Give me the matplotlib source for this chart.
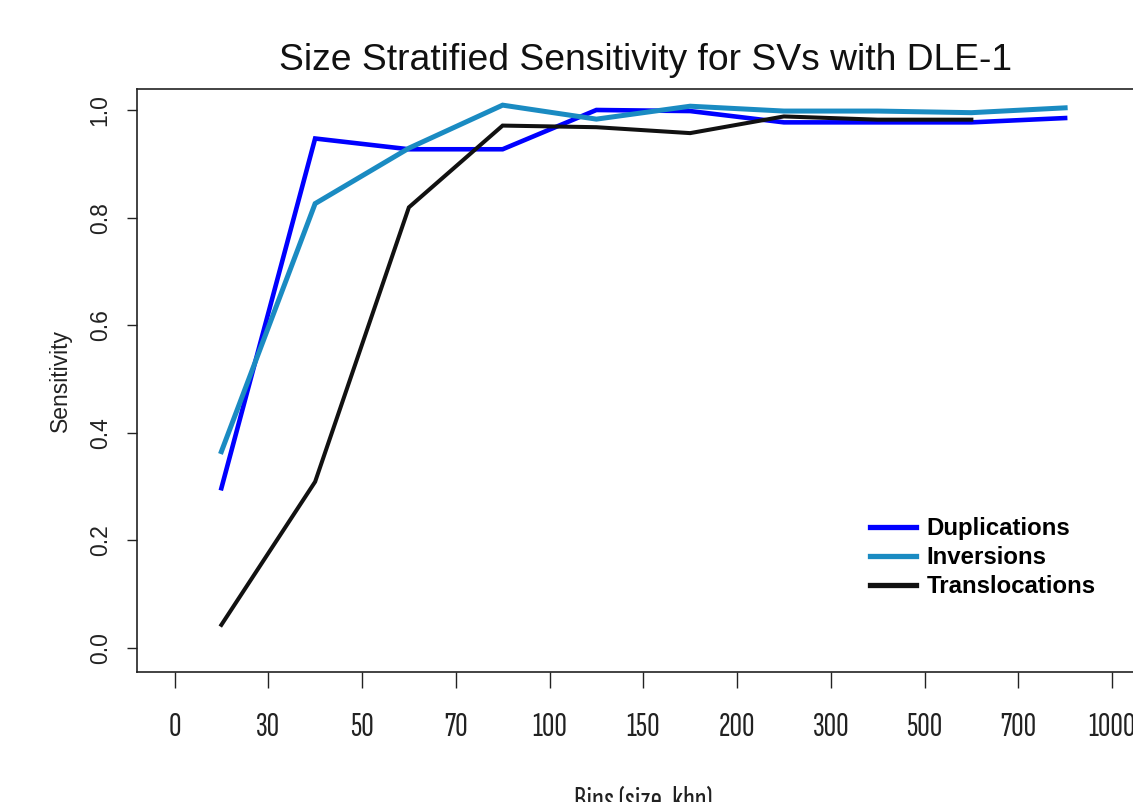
import matplotlib
matplotlib.use("Agg")
import matplotlib.pyplot as plt

# ---- data ----
bin_edges = ["0", "30", "50", "70", "100", "150", "200", "300", "500", "700", "1000"]
bin_centers = [0.5, 1.5, 2.5, 3.5, 4.5, 5.5, 6.5, 7.5, 8.5, 9.5]
duplications = [0.297, 0.947, 0.927, 0.927, 1.000, 0.998, 0.977, 0.977, 0.977, 0.985]
inversions = [0.365, 0.826, 0.929, 1.009, 0.983, 1.007, 0.998, 0.998, 0.995, 1.004]
translocations = [0.043, 0.309, 0.819, 0.971, 0.968, 0.957, 0.988, 0.982, 0.982]

narrow = ["Sofia Sans Extra Condensed", "DejaVu Sans"]
base = ["Liberation Sans", "DejaVu Sans"]

W, H = 1133, 802
fig = plt.figure(figsize=(W / 100, H / 100), dpi=100)
ax_left, ax_right, ax_top, ax_bottom = 137, 1149.5, 89, 672
ax = fig.add_axes([ax_left / W, 1 - ax_bottom / H, (ax_right - ax_left) / W, (ax_bottom - ax_top) / H])

ax.plot(bin_centers, duplications, color="#0000FF", lw=3.3, label="Duplications", solid_joinstyle="miter")
ax.plot(bin_centers, inversions, color="#1A8BC2", lw=3.6, label="Inversions", solid_joinstyle="miter")
ax.plot(bin_centers[:len(translocations)], translocations, color="#111111", lw=2.9,
        label="Translocations", solid_joinstyle="miter")

ax.set_xlim(-0.4, 10.4)
ax.set_ylim(-0.0446, 1.039)

ax.set_xticks(range(len(bin_edges)))
ax.set_xticklabels(bin_edges, family=narrow, fontsize=25, color="#222222")
ax.set_yticks([0.0, 0.2, 0.4, 0.6, 0.8, 1.0])
ax.set_yticklabels(["0.0", "0.2", "0.4", "0.6", "0.8", "1.0"], family=base, fontsize=16.5,
                   rotation=90, va="center", color="#222222")
ax.tick_params(axis="x", length=11.5, width=1.0, pad=17, colors="#222222")
ax.tick_params(axis="y", length=7.2, width=1.0, pad=11, colors="#222222")

for s in ["left", "bottom", "top"]:
    ax.spines[s].set_linewidth(1.2)
    ax.spines[s].set_color("#222222")
ax.spines["right"].set_visible(False)

fig.text(646 / W, 1 - 61 / H, "Size Stratified Sensitivity for SVs with DLE-1",
         family=base, fontsize=26.8, ha="center", va="center", color="#111111")
fig.text(60 / W, 1 - 380 / H, "Sensitivity", family=base, fontsize=16.5,
         rotation=90, ha="center", va="center", color="#222222")
fig.text(643 / W, 1 - 801 / H, "Bins (size, kbp)", family=narrow, fontsize=25,
         ha="center", va="center", color="#222222")

leg = ax.legend(loc="upper left", bbox_to_anchor=(870 / W, 1 - 517 / H),
                bbox_transform=fig.transFigure, frameon=False,
                prop={"family": base, "weight": "bold", "size": 17.3},
                handlelength=1.9, handletextpad=0.45, labelspacing=0.25,
                borderpad=0, borderaxespad=0)
for line in leg.get_lines():
    line.set_linewidth(3.8)

fig.savefig("out.png", dpi=100)
